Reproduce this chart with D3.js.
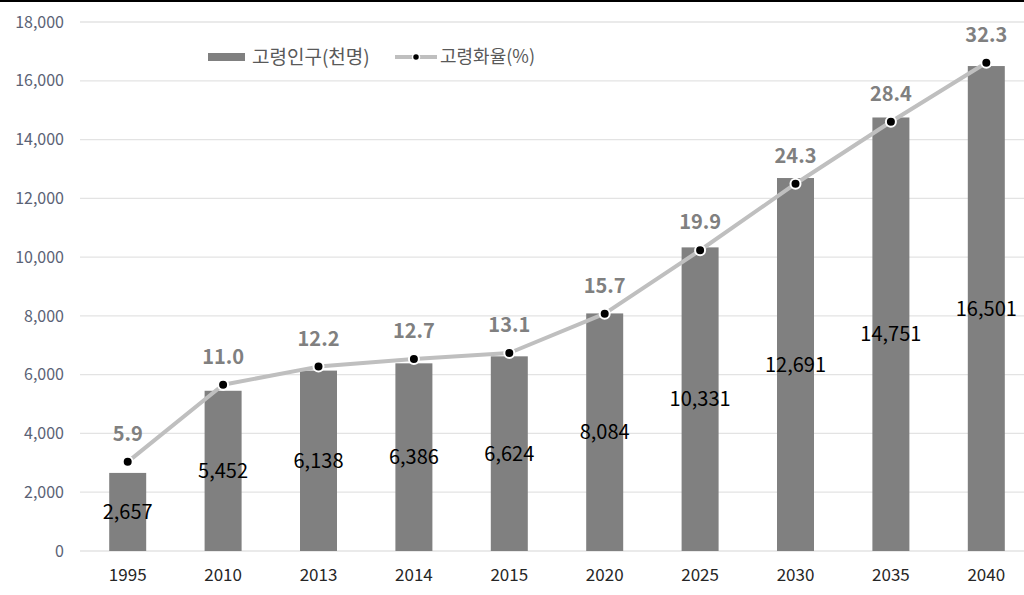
<!DOCTYPE html>
<html><head><meta charset="utf-8">
<script src="https://cdn.jsdelivr.net/npm/d3@7"></script>
<style>body{margin:0;background:#fff}svg{display:block}</style>
</head><body>
<svg id="c" width="1024" height="595"></svg>
<script>
const years = ["1995","2010","2013","2014","2015","2020","2025","2030","2035","2040"];
const population = [2657,5452,6138,6386,6624,8084,10331,12691,14751,16501];
const ratio = [5.9,11.0,12.2,12.7,13.1,15.7,19.9,24.3,28.4,32.3];
const yTicks = [0,2000,4000,6000,8000,10000,12000,14000,16000,18000];
const legendLabels = ["고령인구(천명)","고령화율(%)"];

const font = "'Noto Sans CJK KR','Noto Sans',sans-serif";
const svg = d3.select("#c");
svg.append("rect").attr("width",1024).attr("height",595).attr("fill","#fff");
svg.append("rect").attr("x",0).attr("y",0).attr("width",1024).attr("height",2).attr("fill","#000");

const x = d3.scaleBand().domain(years).range([80,1034]).padding(0);
const y = d3.scaleLinear().domain([0,18000]).range([551,22]);
const y2 = d3.scaleLinear().domain([0,35]).range([551,22]);
const barW = 37;

// gridlines
svg.append("g").selectAll("line").data(yTicks).join("line")
  .attr("x1",80).attr("x2",1024)
  .attr("y1",d=>y(d)).attr("y2",d=>y(d))
  .attr("stroke","#e3e3e3").attr("stroke-width",1.3);

// y axis labels
const yAxis = d3.axisLeft(y).tickValues(yTicks).tickFormat(d3.format(",")).tickSize(0).tickPadding(0);
const ya = svg.append("g").attr("transform","translate(64,0)").call(yAxis);
ya.select(".domain").remove();
ya.selectAll("text").attr("font-family",font).attr("font-size",16).attr("fill","#5a6275");

// x axis labels
const xAxis = d3.axisBottom(x).tickSize(0).tickPadding(0);
const xa = svg.append("g").attr("transform","translate(0,569)").call(xAxis);
xa.select(".domain").remove();
xa.selectAll("text").attr("font-family",font).attr("font-size",17).attr("fill","#262626");

// bars
svg.append("g").selectAll("rect").data(years).join("rect")
  .attr("x",(d)=>x(d)+x.bandwidth()/2-barW/2)
  .attr("width",barW)
  .attr("y",(d,i)=>y(population[i]))
  .attr("height",(d,i)=>y(0)-y(population[i]))
  .attr("fill","#808080");

// bar labels
svg.append("g").selectAll("text").data(years).join("text")
  .attr("x",d=>x(d)+x.bandwidth()/2)
  .attr("y",(d,i)=>(y(population[i])+y(0))/2)
  .attr("dy","0.35em")
  .attr("text-anchor","middle")
  .attr("font-family",font).attr("font-size",20).attr("fill","#000")
  .text((d,i)=>d3.format(",")(population[i]));

// line
const line = d3.line().x((d,i)=>x(years[i])+x.bandwidth()/2).y(d=>y2(d));
svg.append("path").datum(ratio).attr("d",line)
  .attr("fill","none").attr("stroke","#bfbfbf").attr("stroke-width",4).attr("stroke-linejoin","round");
svg.append("g").selectAll("circle").data(ratio).join("circle")
  .attr("cx",(d,i)=>x(years[i])+x.bandwidth()/2)
  .attr("cy",d=>y2(d))
  .attr("r",5).attr("fill","#000").attr("stroke","#fff").attr("stroke-width",2);
svg.append("g").selectAll("text").data(ratio).join("text")
  .attr("x",(d,i)=>x(years[i])+x.bandwidth()/2)
  .attr("y",d=>y2(d)-28)
  .attr("dy","0.35em")
  .attr("text-anchor","middle")
  .attr("font-family",font).attr("font-size",20).attr("font-weight","bold").attr("fill","#808080")
  .text(d=>d.toFixed(1));

// legend
const lg = svg.append("g");
lg.append("rect").attr("x",208).attr("y",53).attr("width",37).attr("height",8).attr("fill","#808080");
lg.append("text").attr("x",252).attr("y",57).attr("dy","0.35em")
  .attr("font-family",font).attr("font-size",19).attr("fill","#595959").text(legendLabels[0]);
lg.append("line").attr("x1",395).attr("x2",437).attr("y1",57).attr("y2",57)
  .attr("stroke","#bfbfbf").attr("stroke-width",4);
lg.append("circle").attr("cx",416).attr("cy",57).attr("r",3.5).attr("fill","#000").attr("stroke","#fff").attr("stroke-width",1.5);
lg.append("text").attr("x",440).attr("y",57).attr("dy","0.35em")
  .attr("font-family",font).attr("font-size",18).attr("fill","#595959").text(legendLabels[1]);
</script>
</body></html>
